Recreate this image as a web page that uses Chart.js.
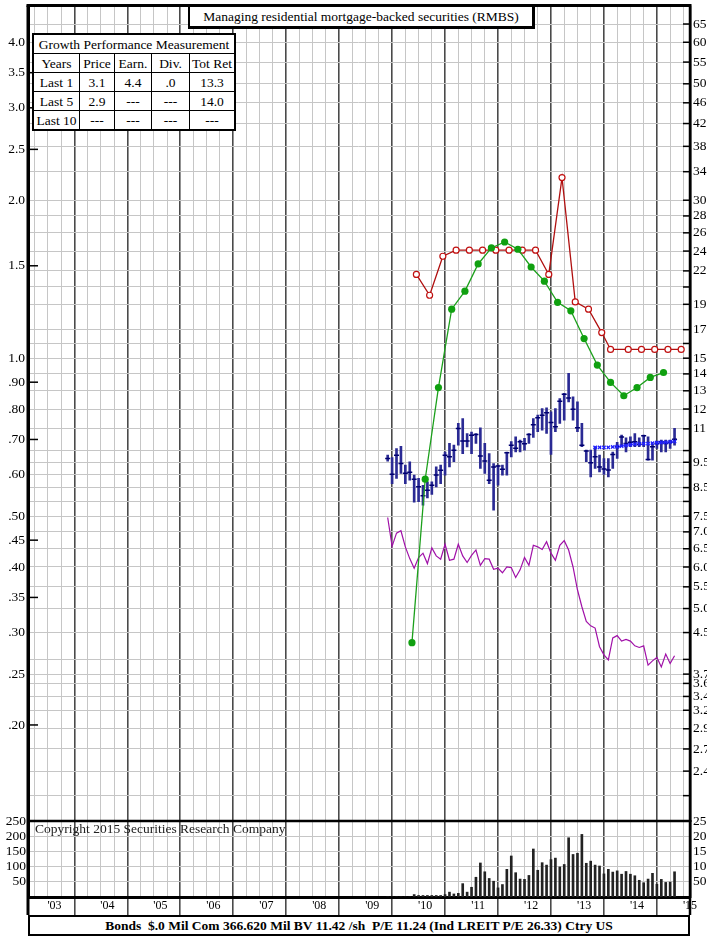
<!DOCTYPE html>
<html>
<head>
<meta charset="utf-8">
<script src="https://cdn.jsdelivr.net/npm/chart.js@4.4.1/dist/chart.umd.min.js"></script>
<style>
body{margin:0;background:#fff;}
#box{position:relative;width:707px;height:937px;overflow:hidden;font-family:"Liberation Serif","Times New Roman",serif;color:#000;}
#c{position:absolute;left:0;top:0;}
#ttl{position:absolute;left:188px;top:5px;width:342px;height:19px;line-height:19px;border:2px solid #000;border-right-width:3px;border-bottom-width:3px;background:#fff;text-align:center;font-size:13.5px;}
#gpm{position:absolute;left:32px;top:33px;border-collapse:collapse;background:#fff;font-size:13.5px;border:2px solid #000;}
#gpm td{border:1px solid #000;text-align:center;padding:0;height:18px;line-height:17px;}
#copy{position:absolute;left:35px;top:821px;font-size:13.5px;color:#222;}
#foot{position:absolute;left:28px;top:915px;width:658px;height:17px;line-height:17px;border:2px solid #000;background:#fff;font-weight:bold;font-size:13.5px;text-align:center;}
</style>
</head>
<body>
<div id="box">
<canvas id="c" width="707" height="937"></canvas>
<div id="ttl">Managing residential mortgage-backed securities (RMBS)</div>
<table id="gpm">
<tr><td colspan="5">Growth Performance Measurement</td></tr>
<tr><td style="width:45px">Years</td><td style="width:34px">Price</td><td style="width:36px">Earn.</td><td style="width:37px">Div.</td><td style="width:44px">Tot Ret</td></tr>
<tr><td>Last 1</td><td>3.1</td><td>4.4</td><td>.0</td><td>13.3</td></tr>
<tr><td>Last 5</td><td>2.9</td><td>---</td><td>---</td><td>14.0</td></tr>
<tr><td>Last 10</td><td>---</td><td>---</td><td>---</td><td>---</td></tr>
</table>
<div id="copy">Copyright 2015 Securities Research Company</div>
<div id="foot">Bonds&nbsp; $.0 Mil Com 366.620 Mil BV 11.42 /sh&nbsp; P/E 11.24 (Ind LREIT P/E 26.33) Ctry US</div>
</div>
<script>
// monthly price bars, Oct 2009 .. Mar 2015
const months = [
  '2009-10','2009-11','2009-12',
  '2010-01','2010-02','2010-03','2010-04','2010-05','2010-06','2010-07','2010-08','2010-09','2010-10','2010-11','2010-12',
  '2011-01','2011-02','2011-03','2011-04','2011-05','2011-06','2011-07','2011-08','2011-09','2011-10','2011-11','2011-12',
  '2012-01','2012-02','2012-03','2012-04','2012-05','2012-06','2012-07','2012-08','2012-09','2012-10','2012-11','2012-12',
  '2013-01','2013-02','2013-03','2013-04','2013-05','2013-06','2013-07','2013-08','2013-09','2013-10','2013-11','2013-12',
  '2014-01','2014-02','2014-03','2014-04','2014-05','2014-06','2014-07','2014-08','2014-09','2014-10','2014-11','2014-12',
  '2015-01','2015-02','2015-03'
];
const priceHigh = [9.80,9.70,10.09,10.19,9.38,9.52,8.98,8.85,8.59,8.72,8.72,9.31,9.38,9.94,10.32,10.24,11.27,11.51,10.78,10.85,10.78,11.05,10.32,9.87,9.45,9.38,9.38,9.94,10.40,10.62,10.47,10.55,10.78,
  11.51,11.68,12.03,12.06,11.85,12.03,12.57,12.85,14.03,12.66,12.38,11.27,10.02,10.02,10.17,9.80,9.66,9.66,9.94,10.37,10.70,10.57,10.62,10.78,10.57,10.70,10.62,10.28,10.43,10.47,10.47,10.47,11.02];
const priceLow = [9.55,8.65,8.85,9.05,8.65,8.78,7.97,7.99,7.87,8.12,8.25,8.53,8.65,8.98,9.31,9.52,10.24,9.87,10.16,9.87,10.32,9.25,9.05,8.65,7.70,8.59,8.98,8.98,9.73,9.94,9.94,10.02,10.32,
  10.60,10.86,10.94,10.78,9.83,10.86,11.27,11.43,12.38,11.43,10.86,10.17,9.52,8.91,9.25,9.11,9.01,8.91,9.25,9.66,10.17,9.94,10.17,10.17,10.17,10.17,9.59,9.59,10.09,9.94,9.94,10.09,10.24];
const priceClose = [9.66,9.01,9.80,9.45,9.05,9.09,8.82,8.53,8.20,8.40,8.59,8.98,9.17,9.80,9.73,10.02,11.02,10.43,10.43,10.70,10.73,9.77,9.55,8.78,9.31,9.35,9.21,9.90,10.24,10.10,10.40,10.30,10.73,
  11.20,11.55,11.68,11.80,11.31,11.10,12.42,12.80,12.60,11.99,11.05,10.24,9.98,9.48,9.73,9.31,9.22,9.18,9.83,10.17,10.62,10.32,10.37,10.40,10.28,10.67,9.62,10.17,10.32,10.40,10.32,10.37,10.51];
const volume = [0,0,0,0,0,0,8,5,5,5,5,5,5,8,16,10,12,44,16,32,65,112,83,61,52,30,41,91,135,80,59,58,71,158,88,113,
  105,123,128,99,107,195,140,144,206,111,118,105,102,76,91,82,86,75,84,75,70,55,47,59,78,42,58,48,49,83];
const relStrength = [.497,.438,.464,.469,.437,.415,.398,.417,.425,.406,.435,.420,.414,.442,.412,.414,.442,.420,.408,.421,
  .431,.403,.415,.414,.396,.398,.390,.400,.399,.382,.395,.417,.403,.440,.437,.432,.447,.425,.412,.440,
  .449,.431,.400,.362,.336,.315,.309,.306,.282,.272,.266,.293,.296,.289,.291,.289,.283,.281,.283,.260,
  .265,.269,.258,.273,.262,.271];
const avgFrom = '2013-09';
const avgLine = [10.14,10.14,10.14,10.14,10.16,10.17,10.20,10.23,10.26,10.29,10.30,10.31,10.31,10.33,10.35,10.36,10.37,10.39,10.41];

// quarterly earnings (green) and dividends (red), left scale
const earnDates = ['2010-04','2010-07','2010-10','2011-01','2011-04','2011-07','2011-10','2012-01','2012-04','2012-07',
  '2012-10','2013-01','2013-04','2013-07','2013-10','2014-01','2014-04','2014-07','2014-10','2015-01'];
const earnings = [0.287,0.588,0.879,1.240,1.342,1.512,1.622,1.665,1.613,1.492,1.402,1.278,1.231,1.090,0.970,0.899,0.848,0.879,0.919,0.939];
const divDates = ['2010-05','2010-08','2010-11','2011-02','2011-05','2011-08','2011-11','2012-02','2012-05','2012-08','2012-11',
  '2013-02','2013-05','2013-08','2013-11','2014-01','2014-05','2014-08','2014-11','2015-02','2015-05'];
const dividends = [1.444,1.318,1.564,1.606,1.606,1.606,1.606,1.606,1.606,1.606,1.444,2.209,1.280,1.240,1.119,1.039,1.039,1.039,1.039,1.039,1.039];

// axes
const leftTicks = [4.0,3.5,3.0,2.5,2.0,1.5,1.0,0.9,0.8,0.7,0.6,0.5,0.45,0.4,0.35,0.3,0.25,0.2];
const rightTicks = [65,60,55,50,46,42,38,34,30,28,26,24,22,20.5,19,17,16,15,14,13,12,11,10,9.5,9,8.5,8,7.5,7,6.5,6,5.5,5,4.5,4,3.75,3.6,3.4,3.2,2.95,2.7,2.45,2.2];
const rightText  = ['65','60','55','50','46','42','38','34','30','28','26','24','22','','19','17','','15','14','13','12','11','','9.5','','8.5','','7.5','7.0','6.5','6.0','5.5','5.0','4.5','','3.75','3.6','3.4','3.2','2.95','2.7','2.45',''];
const volTicks = [50,100,150,200,250];

const RATIO = 15;            // price scale = 15 x earnings scale
const LMIN = 0.1312, LMAX = 4.70;

function toT(ym, frac){
  const [y,m] = ym.split('-').map(Number);
  return y - 2000 - 0.5 + (m - 1 + frac) / 12;
}
const mT = months.map(m=>toT(m,0.5));
const a0 = months.indexOf(avgFrom);

const xTicks=[];
for(let q=10;q<=60;q++) xTicks.push(q/4);
const isYearLine = c => !!c.tick && Math.abs((c.tick.value%1)-0.5)<1e-6;
const noPad = s => { s.paddingTop=0; s.paddingBottom=0; s.paddingLeft=0; s.paddingRight=0; };

Chart.defaults.font.family = "'Liberation Serif','Times New Roman',serif";
Chart.defaults.font.size = 13.5;
Chart.defaults.color = '#000';

const frame = {
  id:'frame',
  beforeDraw(chart){
    // side rules through the year-label row, under the labels
    const {ctx, chartArea:a, scales:s} = chart;
    ctx.save();
    ctx.strokeStyle='#000';
    ctx.lineWidth=3;
    ctx.beginPath(); ctx.moveTo(a.left, a.bottom); ctx.lineTo(a.left, s.x.bottom); ctx.stroke();
    ctx.lineWidth=2.5;
    ctx.beginPath(); ctx.moveTo(a.right, a.bottom); ctx.lineTo(a.right, s.x.bottom); ctx.stroke();
    ctx.restore();
  },
  afterDraw(chart){
    const {ctx, chartArea:a, scales:s} = chart;
    const ln=(x1,y1,x2,y2)=>{ctx.beginPath();ctx.moveTo(x1,y1);ctx.lineTo(x2,y2);ctx.stroke();};
    ctx.save();
    ctx.strokeStyle='#000';
    ctx.lineWidth=1.5;
    leftTicks.forEach(v=>{
      if(rightTicks.some(r=>Math.abs(r-v*RATIO)<0.01)) return;
      const y=s.y.getPixelForValue(v);
      ln(a.left, y, a.left+10, y);
    });
    rightTicks.forEach(v=>{
      const y=s.yR.getPixelForValue(v);
      ln(a.right-7, y, a.right, y);
    });
    ctx.lineWidth=3;
    ln(a.left-1.5, a.top, a.right+1, a.top);
    ln(a.left, a.top, a.left, a.bottom);
    ctx.lineWidth=2.5;
    ln(a.right, a.top, a.right, a.bottom);
    ln(a.left, s.yV.top, a.right, s.yV.top);
    ctx.restore();
  }
};

new Chart(document.getElementById('c'), {
  type:'scatter',
  data:{datasets:[
    {type:'line', label:'Earnings', yAxisID:'y',
     data:earnDates.map((d,i)=>({x:toT(d,0), y:earnings[i]})),
     borderColor:'#1ca01c', borderWidth:1.3, pointRadius:3.6, pointBackgroundColor:'#10a010', pointBorderWidth:0},
    {type:'line', label:'Dividends', yAxisID:'y',
     data:divDates.map((d,i)=>({x:toT(d,0), y:dividends[i]})),
     borderColor:'#b01010', borderWidth:1.3, pointRadius:3, pointBackgroundColor:'#fff', pointBorderColor:'#c01010', pointBorderWidth:1.2},
    {type:'line', label:'Avg', yAxisID:'yR',
     data:avgLine.map((v,i)=>({x:mT[a0+i], y:v})),
     borderColor:'#1f1fff', borderWidth:1.2, borderDash:[2,2], pointStyle:'crossRot', pointRadius:2.4, pointBorderColor:'#1f1fff', pointBorderWidth:1.3},
    {type:'scatter', label:'Close', yAxisID:'yR',
     data:priceClose.map((v,i)=>({x:mT[i], y:v})),
     pointStyle:'line', pointRadius:2.5, borderColor:'#000070', borderWidth:1.5},
    {type:'bar', label:'Price', yAxisID:'yR', grouped:false,
     data:months.map((m,i)=>({x:mT[i], y:[priceLow[i], priceHigh[i]]})),
     barThickness:2, backgroundColor:'#2a2a94'},
    {type:'line', label:'Rel. strength', yAxisID:'y',
     data:relStrength.map((v,i)=>({x:mT[i], y:v})),
     borderColor:'#a010a8', borderWidth:1.2, pointRadius:0},
    {type:'bar', label:'Volume', yAxisID:'yV', grouped:false,
     data:volume.map((v,i)=>({x:mT[i], y:v})),
     barThickness:2, backgroundColor:'#222'}
  ]},
  options:{
    responsive:false, animation:false, events:[],
    layout:{padding:{top:5, bottom:22, left:0, right:0}},
    plugins:{legend:{display:false}, tooltip:{enabled:false}},
    scales:{
      x:{type:'linear', min:2.5, max:15, offset:false,
        afterBuildTicks:s=>{ s.ticks = xTicks.map(v=>({value:v})); },
        afterFit:s=>{ s.height = 18; noPad(s); },
        grid:{color:c=>isYearLine(c)?'#4a4a4a':'#c6c6c6', lineWidth:c=>isYearLine(c)?1.6:1,
              drawTicks:true, tickLength:18, tickColor:c=>isYearLine(c)?'#4a4a4a':'rgba(0,0,0,0)'},
        border:{display:true, color:'#000', width:3},
        ticks:{autoSkip:false, maxRotation:0, padding:-16, font:{size:12},
               callback:v=>Number.isInteger(v)?"'"+String(v).padStart(2,'0'):''}},
      yR:{type:'logarithmic', position:'right', stack:'R', stackWeight:816, weight:0,
        min:LMIN*RATIO, max:LMAX*RATIO,
        afterBuildTicks:s=>{ s.ticks = rightTicks.map(v=>({value:v})); },
        afterFit:s=>{ s.width = 17; noPad(s); },
        grid:{color:'#c6c6c6', lineWidth:1, drawTicks:false},
        border:{display:true, color:'#000', width:2.5},
        ticks:{autoSkip:false, padding:3, callback:(v,i)=>rightText[i]}},
      yV:{type:'linear', position:'left', stack:'L', stackWeight:76, weight:0, min:0, max:250,
        afterBuildTicks:s=>{ s.ticks = volTicks.map(v=>({value:v})); },
        afterFit:s=>{ s.width = 28; noPad(s); },
        grid:{color:'#c6c6c6', drawTicks:false},
        border:{display:true, color:'#000', width:3},
        ticks:{autoSkip:false, padding:2, callback:v=>String(v)}},
      y:{type:'logarithmic', position:'left', stack:'L', stackWeight:816, weight:1,
        min:LMIN, max:LMAX,
        afterBuildTicks:s=>{ s.ticks = leftTicks.map(v=>({value:v})); },
        afterFit:s=>{ s.width = 28; noPad(s); },
        grid:{display:false, drawTicks:false},
        border:{display:true, color:'#000', width:3},
        ticks:{autoSkip:false, padding:3, callback:v=>v>=1?v.toFixed(1):'.'+v.toFixed(2).slice(2)}},
      yV2:{type:'linear', position:'right', stack:'R', stackWeight:76, weight:1, min:0, max:250,
        afterBuildTicks:s=>{ s.ticks = volTicks.map(v=>({value:v})); },
        afterFit:s=>{ s.width = 17; noPad(s); },
        grid:{display:false, drawTicks:false},
        border:{display:true, color:'#000', width:2.5},
        ticks:{autoSkip:false, padding:3, callback:v=>String(v)}}
    }
  },
  plugins:[frame]
});
</script>
</body>
</html>
